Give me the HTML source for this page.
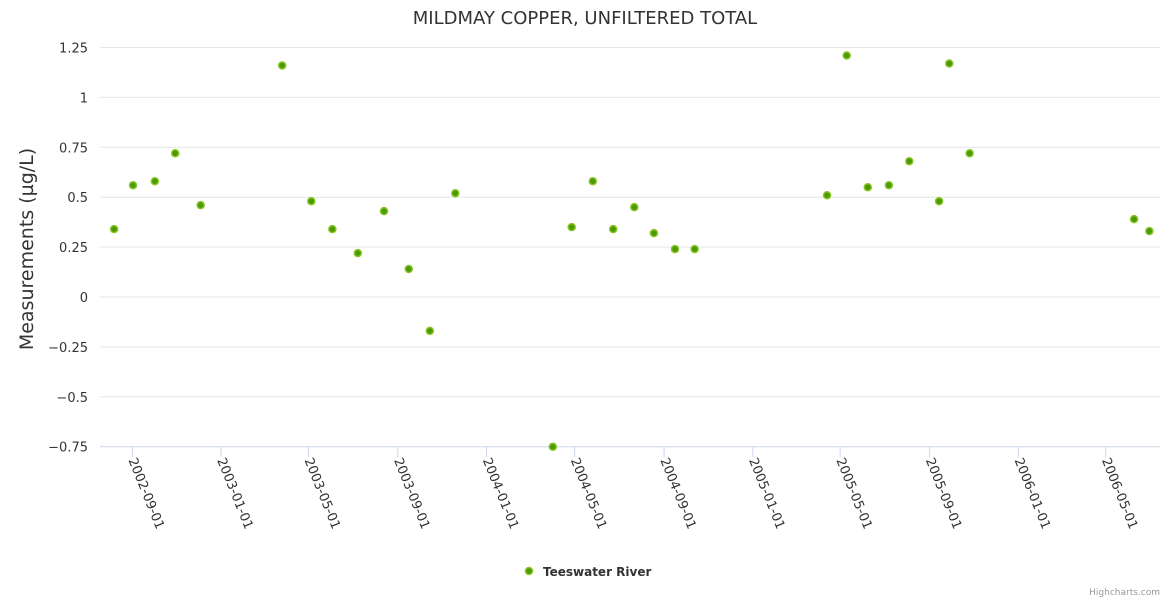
<!DOCTYPE html>
<html><head><meta charset="utf-8"><style>
html,body{margin:0;padding:0;background:#fff;}
svg{display:block;font-family:"DejaVu Sans","Liberation Sans",sans-serif;}
</style></head><body>
<svg id="chart" width="1170" height="600">
<text x="585" y="24" text-anchor="middle" font-size="18" fill="#333">MILDMAY COPPER, UNFILTERED TOTAL</text>
<g id="grid"></g>
<g id="xaxis"></g>
<g id="yaxis"></g>
<text transform="translate(33,249) rotate(-90)" text-anchor="middle" font-size="19" fill="#333">Measurements (µg/L)</text>
<g id="points"></g>
<g>
<circle cx="529" cy="571" r="3.5" fill="#4c9900" stroke="#88c425" stroke-width="1.5"/>
<text x="543" y="576" font-size="12" font-weight="bold" fill="#333">Teeswater River</text>
</g>
<text x="1160" y="595" text-anchor="end" font-size="9" fill="#999">Highcharts.com</text>
</svg>
<script>
const dates=["2002-08-07","2002-09-02","2002-10-02","2002-10-30","2002-12-04","2003-03-26","2003-05-05","2003-06-03","2003-07-08","2003-08-13","2003-09-16","2003-10-15","2003-11-19","2004-04-01","2004-04-27","2004-05-26","2004-06-23","2004-07-22","2004-08-18","2004-09-16","2004-10-13","2005-04-13","2005-05-10","2005-06-08","2005-07-07","2005-08-04","2005-09-14","2005-09-28","2005-10-26","2006-06-09","2006-06-30"];
const values=[0.34,0.56,0.58,0.72,0.46,1.16,0.48,0.34,0.22,0.43,0.14,-0.17,0.52,-0.75,0.35,0.58,0.34,0.45,0.32,0.24,0.24,0.51,1.21,0.55,0.56,0.68,0.48,1.17,0.72,0.39,0.33];
const xTicks=["2002-09-01","2003-01-01","2003-05-01","2003-09-01","2004-01-01","2004-05-01","2004-09-01","2005-01-01","2005-05-01","2005-09-01","2006-01-01","2006-05-01"];
const yTicks=[1.25,1,0.75,0.5,0.25,0,-0.25,-0.5,-0.75];
const yLabels=["1.25","1","0.75","0.5","0.25","0","−0.25","−0.5","−0.75"];
const NS="http://www.w3.org/2000/svg";
const t0=Date.UTC(2002,8,1);
function xs(d){const p=d.split("-").map(Number);return 132.3+((Date.UTC(p[0],p[1]-1,p[2])-t0)/86400000)*0.7275;}
function ys(v){return 297-v*199.6;}
function mk(tag,attrs,parent){const e=document.createElementNS(NS,tag);for(const k in attrs)e.setAttribute(k,attrs[k]);parent.appendChild(e);return e;}
const grid=document.getElementById("grid"),ya=document.getElementById("yaxis"),xa=document.getElementById("xaxis"),pts=document.getElementById("points");
yTicks.forEach((v,i)=>{
 if(v!==-0.75){const l=mk("line",{x1:100,x2:1160,y1:ys(v),y2:ys(v),stroke:"#e6e6e6","stroke-width":1},grid);
 
 }
 const t=mk("text",{x:88,y:ys(v)+5,"text-anchor":"end","font-size":13,fill:"#333"},ya);
 t.textContent=yLabels[i];
 
 
});
const ax=mk("line",{x1:100,x2:1160,y1:446.7,y2:446.7,stroke:"#ccd6eb","stroke-width":1},xa);


xTicks.forEach(d=>{
 const x=xs(d);
 const tk=mk("line",{x1:x,x2:x,y1:446.7,y2:457,stroke:"#ccd6eb","stroke-width":1},xa);
 
 
 const t=mk("text",{transform:`translate(${x-4},${460}) rotate(68)`,"font-size":13,fill:"#333"},xa);
 t.textContent=d;
 
 
});
dates.forEach((d,i)=>{
 const c=mk("circle",{cx:xs(d),cy:ys(values[i]),r:3.5,fill:"#4c9900",stroke:"#88c425","stroke-width":1.5},pts);
 
 
});
</script>
</body></html>
